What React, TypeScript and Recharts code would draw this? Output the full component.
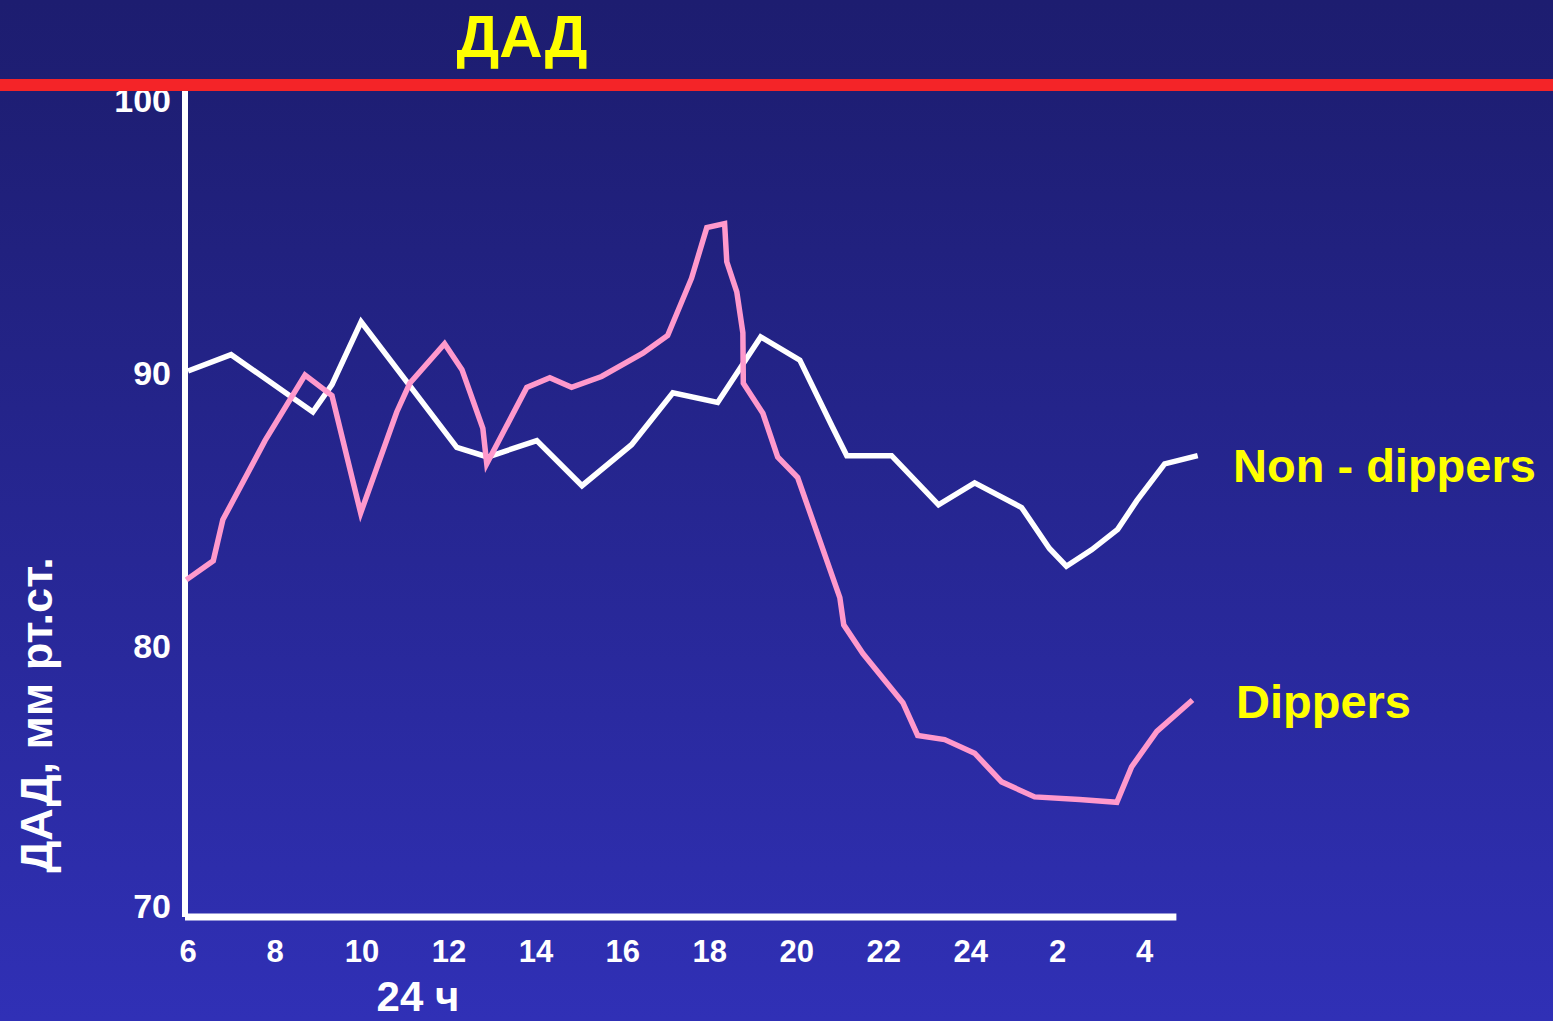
import { LineChart, Line, XAxis, YAxis, ReferenceLine } from "recharts"

// clock hour (hours past 24 are the next morning) and diastolic pressure, mm Hg
const nonDipperHours = [
  6.0, 6.99, 8.87, 9.31, 9.98, 12.18, 12.89, 14.02, 15.06, 16.2, 17.15, 18.18, 19.17, 20.07,
  20.82, 21.15, 22.18, 23.26, 24.09, 25.17, 25.81, 26.2, 26.78, 27.38, 27.82, 28.46, 29.22,
]
const nonDipperValues = [
  90.0, 90.6, 88.5, 89.5, 91.8, 87.2, 86.85, 87.45, 85.8, 87.3, 89.2, 88.85, 91.25, 90.4,
  87.95, 86.9, 86.9, 85.1, 85.9, 85.0, 83.5, 82.85, 83.45, 84.2, 85.25, 86.6, 86.9,
]

const dipperHours = [
  5.96, 6.58, 6.8, 7.77, 8.69, 9.31, 9.97, 10.8, 11.1, 11.9, 12.3, 12.78, 12.87, 13.79, 14.32,
  14.82, 15.51, 16.46, 17.03, 17.58, 17.93, 18.34, 18.39, 18.62, 18.76, 18.77, 19.22, 19.56,
  20.02, 20.99, 21.08, 21.52, 22.44, 22.78, 23.4, 24.09, 24.71, 25.47, 26.5, 27.36, 27.7,
  28.28, 29.1,
]
const dipperValues = [
  82.35, 83.05, 84.55, 87.45, 89.85, 89.1, 84.8, 88.5, 89.55, 91.0, 90.05, 87.9, 86.6, 89.4,
  89.75, 89.4, 89.8, 90.65, 91.3, 93.4, 95.25, 95.4, 94.0, 92.9, 91.4, 89.55, 88.45, 86.85,
  86.1, 81.7, 80.7, 79.65, 77.85, 76.65, 76.5, 76.0, 74.95, 74.4, 74.3, 74.2, 75.5, 76.8,
  77.95,
]

const hourTicks = [6, 8, 10, 12, 14, 16, 18, 20, 22, 24, 26, 28]
const valueTicks = [70, 80, 90, 100]

const nonDippers = nonDipperHours.map((h, i) => ({ h, v: nonDipperValues[i] }))
const dippers = dipperHours.map((h, i) => ({ h, v: dipperValues[i] }))

const FONT = '"Liberation Sans", Arial, Helvetica, sans-serif'
const X_MIN = 5.93
const X_MAX = 29.25

const hourLabel = (h: number) => String(h > 24 ? h - 24 : h)

function YTick(props: any) {
  const { y, payload } = props
  const dy = payload.value === 70 ? 1 : 14
  return (
    <text x={171} y={y + dy} textAnchor="end" fill="#fff" fontSize={34} fontWeight="bold" fontFamily={FONT}>
      {payload.value}
    </text>
  )
}

function XTick(props: any) {
  const { x, payload } = props
  return (
    <text x={x} y={962} textAnchor="middle" fill="#fff" fontSize={31} fontWeight="bold" fontFamily={FONT}>
      {hourLabel(payload.value)}
    </text>
  )
}

export default function App() {
  return (
    <div
      style={{
        position: "absolute",
        left: 0,
        top: 0,
        width: 1553,
        height: 1021,
        overflow: "hidden",
        background: "linear-gradient(180deg, #1d1d70 0%, #1e1e74 9%, #24248a 40%, #3030b6 100%)",
      }}
    >
      <div style={{ position: "absolute", left: 0, top: 0 }}>
        <LineChart
          width={1553}
          height={1021}
          margin={{ top: 86, left: 125, right: 354, bottom: 64 }}
        >
          <XAxis
            type="number"
            dataKey="h"
            domain={[X_MIN, X_MAX]}
            ticks={hourTicks}
            allowDataOverflow
            axisLine={false}
            tickLine={false}
            height={40}
            tick={<XTick />}
          />
          <YAxis
            type="number"
            dataKey="v"
            domain={[70, 100.44]}
            ticks={valueTicks}
            allowDataOverflow
            axisLine={false}
            tickLine={false}
            width={60}
            tick={<YTick />}
          />
          <ReferenceLine
            segment={[{ x: X_MIN, y: 70 }, { x: X_MIN, y: 100.44 }]}
            stroke="#fff"
            strokeWidth={6}
          />
          <ReferenceLine
            segment={[{ x: X_MIN, y: 70 }, { x: 28.73, y: 70 }]}
            stroke="#fff"
            strokeWidth={7}
          />
          <Line
            data={nonDippers}
            dataKey="v"
            type="linear"
            stroke="#ffffff"
            strokeWidth={5.5}
            dot={false}
            isAnimationActive={false}
          />
          <Line
            data={dippers}
            dataKey="v"
            type="linear"
            stroke="#ff99cc"
            strokeWidth={5.5}
            dot={false}
            isAnimationActive={false}
          />
        </LineChart>
      </div>
      <svg
        width={1553}
        height={1021}
        style={{ position: "absolute", left: 0, top: 0, pointerEvents: "none" }}
        fontFamily={FONT}
        fontWeight="bold"
      >
        <rect x={0} y={79} width={1553} height={12} fill="#f42428" />
        <text x={522} y={57} textAnchor="middle" fill="#ffff00" fontSize={60}>
          ДАД
        </text>
        <text
          x={0}
          y={0}
          transform="translate(52 715) rotate(-90)"
          textAnchor="middle"
          fill="#fff"
          fontSize={45}
        >
          ДАД, мм рт.ст.
        </text>
        <text x={418} y={1011} textAnchor="middle" fill="#fff" fontSize={42}>
          24 ч
        </text>
        <text x={1233} y={482} fill="#ffff00" fontSize={47}>
          Non - dippers
        </text>
        <text x={1236} y={718} fill="#ffff00" fontSize={47}>
          Dippers
        </text>
      </svg>
    </div>
  )
}
